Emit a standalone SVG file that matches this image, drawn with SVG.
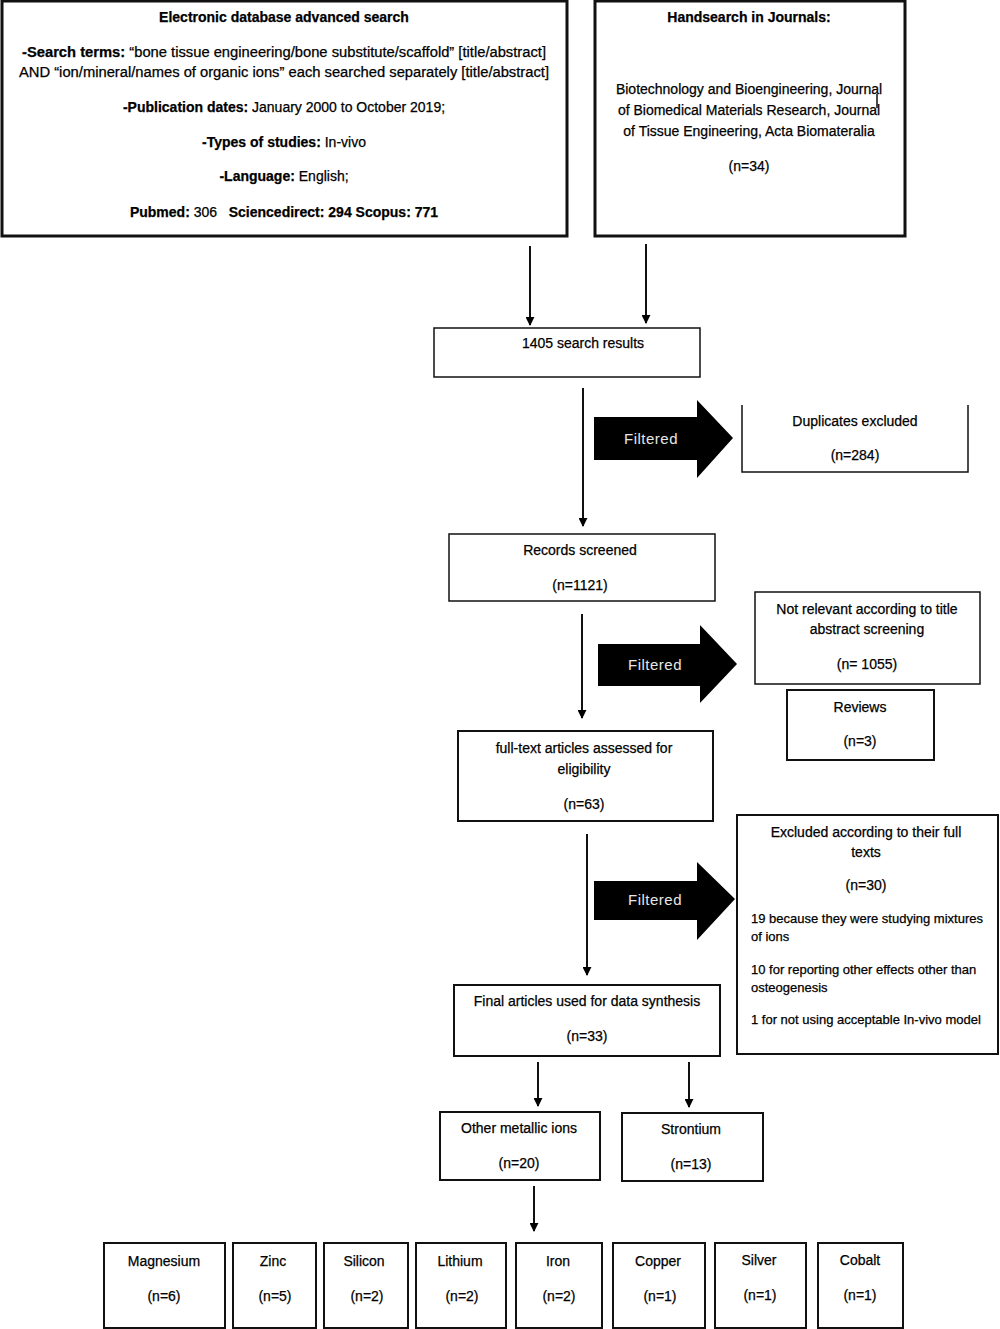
<svg xmlns="http://www.w3.org/2000/svg" width="1000" height="1329" viewBox="0 0 1000 1329">
<defs>
<marker id="ah" viewBox="0 0 10 10" refX="9" refY="5" markerWidth="9" markerHeight="9" markerUnits="userSpaceOnUse" orient="auto">
<path d="M0,0 L10,5 L0,10 Z" fill="#000"/>
</marker>
</defs>
<style>
text{font-family:"Liberation Sans",Arial,sans-serif;font-size:14px;fill:#000;text-anchor:middle;stroke:#000;stroke-width:0.25px}
.b{font-weight:bold}
.n{font-weight:normal}
.l{text-anchor:start;font-size:13px}
.box{fill:#fff;stroke:#111;stroke-width:2}
.thin{stroke-width:1.5}
.thick{stroke-width:3}
.conn{stroke:#111;stroke-width:2;fill:none;marker-end:url(#ah)}
.big{fill:#000}
.f{fill:#e6e6e6;stroke:none;font-size:15px;letter-spacing:0.5px}
</style>
<rect width="1000" height="1329" fill="#fff"/>

<g id="db-search">
<rect class="box thick" x="2" y="1" width="565" height="235"/>
<text class="b" x="284" y="22">Electronic database advanced search</text>
<text x="284" y="57" textLength="524" lengthAdjust="spacingAndGlyphs"><tspan class="b">-Search terms:</tspan> “bone tissue engineering/bone substitute/scaffold” [title/abstract]</text>
<text x="284" y="77" textLength="530" lengthAdjust="spacingAndGlyphs">AND “ion/mineral/names of organic ions” each searched separately [title/abstract]</text>
<text x="284" y="112"><tspan class="b">-Publication dates:</tspan> January 2000 to October 2019;</text>
<text x="284" y="147"><tspan class="b">-Types of studies:</tspan> In-vivo</text>
<text x="284" y="181"><tspan class="b">-Language:</tspan> English;</text>
<text x="284" y="217" class="b">Pubmed: <tspan class="n">306</tspan>&#160;&#160; Sciencedirect: 294 Scopus: 771</text>
</g>

<g id="handsearch">
<rect class="box thick" x="595" y="1" width="310" height="235"/>
<text class="b" x="749" y="22">Handsearch in Journals:</text>
<text x="749" y="94">Biotechnology and Bioengineering, Journal</text>
<text x="749" y="115">of Biomedical Materials Research, Journal</text>
<text x="749" y="136">of Tissue Engineering, Acta Biomateralia</text>
<text x="749" y="171">(n=34)</text>
<line x1="877" y1="94" x2="877" y2="108" stroke="#111" stroke-width="1.5"/>
</g>

<g id="search-results">
<rect class="box thin" x="434" y="328" width="266" height="49"/>
<text x="583" y="348">1405 search results</text>
</g>

<g id="duplicates">
<path d="M742,405 V472 H968 V405" fill="none" stroke="#111" stroke-width="1.5"/>
<text x="855" y="426">Duplicates excluded</text>
<text x="855" y="460">(n=284)</text>
</g>

<g id="records-screened">
<rect class="box thin" x="449" y="534" width="266" height="67"/>
<text x="580" y="555">Records screened</text>
<text x="580" y="590">(n=1121)</text>
</g>

<g id="not-relevant">
<rect class="box thin" x="755" y="592" width="225" height="92"/>
<text x="867" y="614">Not relevant according to title</text>
<text x="867" y="634">abstract screening</text>
<text x="867" y="669">(n= 1055)</text>
</g>

<g id="reviews">
<rect class="box" x="787" y="690" width="147" height="70"/>
<text x="860" y="712">Reviews</text>
<text x="860" y="746">(n=3)</text>
</g>

<g id="full-text">
<rect class="box" x="458" y="731" width="255" height="90"/>
<text x="584" y="753">full-text articles assessed for</text>
<text x="584" y="774">eligibility</text>
<text x="584" y="809">(n=63)</text>
</g>

<g id="excluded-full">
<rect class="box" x="737" y="815" width="261" height="239"/>
<text x="866" y="837">Excluded according to their full</text>
<text x="866" y="857">texts</text>
<text x="866" y="890">(n=30)</text>
<text class="l" x="751" y="923">19 because they were studying mixtures</text>
<text class="l" x="751" y="941">of ions</text>
<text class="l" x="751" y="974">10 for reporting other effects other than</text>
<text class="l" x="751" y="992">osteogenesis</text>
<text class="l" x="751" y="1024">1 for not using acceptable In-vivo model</text>
</g>

<g id="final-articles">
<rect class="box" x="454" y="985" width="266" height="71"/>
<text x="587" y="1006">Final articles used for data synthesis</text>
<text x="587" y="1041">(n=33)</text>
</g>

<g id="other-metallic">
<rect class="box" x="440" y="1112" width="160" height="68"/>
<text x="519" y="1133">Other metallic ions</text>
<text x="519" y="1168">(n=20)</text>
</g>

<g id="strontium">
<rect class="box" x="622" y="1113" width="141" height="68"/>
<text x="691" y="1134">Strontium</text>
<text x="691" y="1169">(n=13)</text>
</g>

<g id="magnesium">
<rect class="box" x="104" y="1243" width="121" height="85"/>
<text x="164" y="1266">Magnesium</text>
<text x="164" y="1301">(n=6)</text>
</g>
<g id="zinc">
<rect class="box" x="233" y="1243" width="83" height="85"/>
<text x="273" y="1266">Zinc</text>
<text x="275" y="1301">(n=5)</text>
</g>
<g id="silicon">
<rect class="box" x="324" y="1243" width="84" height="85"/>
<text x="364" y="1266">Silicon</text>
<text x="367" y="1301">(n=2)</text>
</g>
<g id="lithium">
<rect class="box" x="416" y="1243" width="90" height="85"/>
<text x="460" y="1266">Lithium</text>
<text x="462" y="1301">(n=2)</text>
</g>
<g id="iron">
<rect class="box" x="516" y="1243" width="86" height="85"/>
<text x="558" y="1266">Iron</text>
<text x="559" y="1301">(n=2)</text>
</g>
<g id="copper">
<rect class="box" x="613" y="1243" width="92" height="85"/>
<text x="658" y="1266">Copper</text>
<text x="660" y="1301">(n=1)</text>
</g>
<g id="silver">
<rect class="box" x="715" y="1243" width="91" height="85"/>
<text x="759" y="1265">Silver</text>
<text x="760" y="1300">(n=1)</text>
</g>
<g id="cobalt">
<rect class="box" x="818" y="1243" width="85" height="85"/>
<text x="860" y="1265">Cobalt</text>
<text x="860" y="1300">(n=1)</text>
</g>

<g id="connectors">
<line class="conn" x1="530" y1="246" x2="530" y2="325"/>
<line class="conn" x1="646" y1="244" x2="646" y2="323"/>
<line class="conn" x1="583" y1="388" x2="583" y2="526"/>
<line class="conn" x1="582" y1="614" x2="582" y2="718"/>
<line class="conn" x1="587" y1="834" x2="587" y2="975"/>
<line class="conn" x1="538" y1="1062" x2="538" y2="1106"/>
<line class="conn" x1="689" y1="1062" x2="689" y2="1107"/>
<line class="conn" x1="534" y1="1186" x2="534" y2="1231"/>
<path class="big" d="M594,417 H697 V400 L733,438 L697,478 V460 H594 Z"/>
<text class="f" x="651" y="444">Filtered</text>
<path class="big" d="M598,644 H700 V625 L737,664 L700,703 V686 H598 Z"/>
<text class="f" x="655" y="670">Filtered</text>
<path class="big" d="M594,881 H697 V862 L735,899 L697,940 V920 H594 Z"/>
<text class="f" x="655" y="905">Filtered</text>
</g>
</svg>
